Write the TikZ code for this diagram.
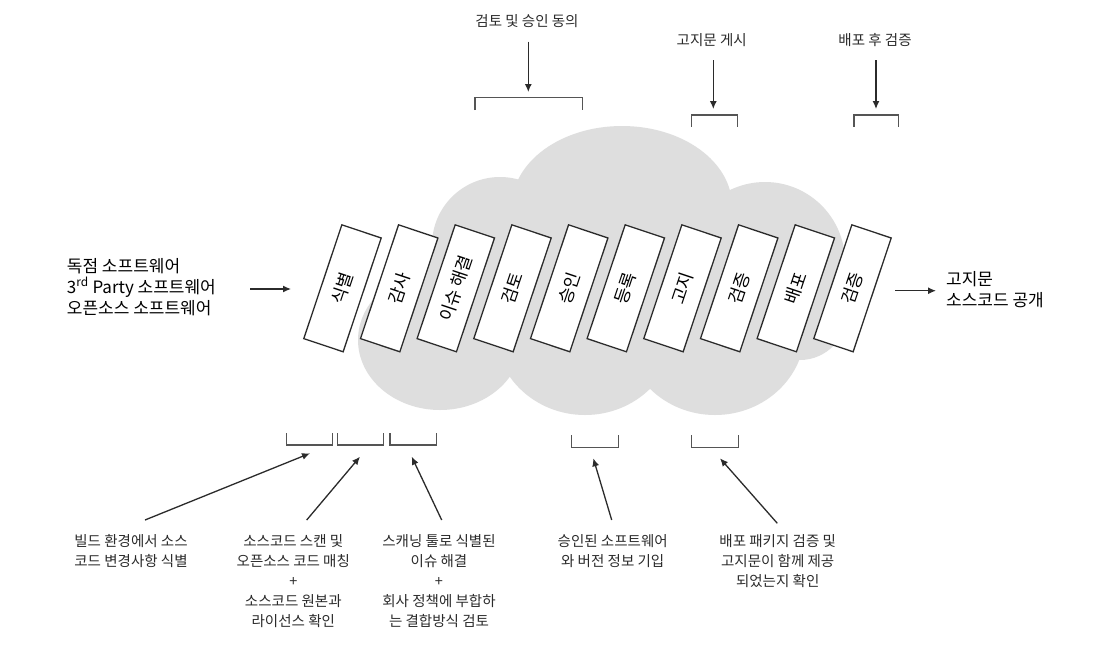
\documentclass[tikz,border=0pt]{standalone}
\usepackage{fontspec}
\setmainfont{Noto Sans CJK KR}
\usetikzlibrary{arrows.meta}
\definecolor{cloudgray}{HTML}{DEDEDE}
\definecolor{ink}{HTML}{2B2B2B}
\definecolor{brkgray}{HTML}{555555}
\begin{document}
\begin{tikzpicture}[x=1pt,y=-1pt,
  stepbox/.style={draw=ink, line width=1.3pt, fill=white, rotate=71.5,
    minimum width=120pt, minimum height=41.5pt, inner sep=0pt,
    font=\fontsize{17.5}{17.5}\selectfont, text=black},
  lbl/.style={align=center, font=\fontsize{14.5}{20}\selectfont, text=ink, inner sep=0pt, anchor=north},
  toplbl/.style={lbl, font=\fontsize{14.5}{20}\selectfont},
  side/.style={align=left, font=\fontsize{17}{21}\selectfont, text=black, inner sep=0pt, anchor=north west},
  arr/.style={-{Latex[length=8pt,width=7pt]}, line width=1.3pt, draw=ink},
  brk/.style={line width=1.5pt, draw=brkgray}]
\useasboundingbox (0,0) rectangle (1119,651);
\fill[white] (0,0) rectangle (1119,651);
% cloud
\begin{scope}[fill=cloudgray]
\fill (622,206) ellipse [x radius=110, y radius=80];
\fill (500,245) circle [radius=68];
\fill (440,340) ellipse [x radius=82, y radius=70];
\fill (585,330) ellipse [x radius=90, y radius=85];
\fill (715,330) ellipse [x radius=90, y radius=85];
\fill (765,262) circle [radius=80];
\fill (800,310) ellipse [x radius=48, y radius=50];
\fill (620,290) ellipse [x radius=200, y radius=100];
\end{scope}
% steps
\node[stepbox] (s1) at (342.5,288.3) {식별};
\node[stepbox] (s2) at (399.2,288.3) {감사};
\node[stepbox] (s3) at (455.8,288.3) {이슈 해결};
\node[stepbox] (s4) at (512.5,288.3) {검토};
\node[stepbox] (s5) at (569.2,288.3) {승인};
\node[stepbox] (s6) at (625.8,288.3) {등록};
\node[stepbox] (s7) at (682.5,288.3) {고지};
\node[stepbox] (s8) at (739.2,288.3) {검증};
\node[stepbox] (s9) at (795.8,288.3) {배포};
\node[stepbox] (s10) at (852.5,288.3) {검증};
% side texts
\node[side] (src) at (66.7,258) {독점 소프트웨어\\3\textsuperscript{rd} Party 소프트웨어\\오픈소스 소프트웨어};
\node[side] (out) at (946,271) {고지문\\소스코드 공개};
\coordinate (ls) at (250,289);
\coordinate (le) at (291,289);
\coordinate (rs) at (895,290.7);
\coordinate (re) at (936,290.7);
\draw[arr] (ls) -- (le);
\draw[arr] (rs) -- (re);
% top brackets
\draw[brk] (475,110) -- (475,97.7) -- (582.3,97.7) -- (582.3,110);
\draw[brk] (691.7,126.7) -- (691.7,115) -- (737.3,115) -- (737.3,126.7);
\draw[brk] (854,126.7) -- (854,115) -- (898.3,115) -- (898.3,126.7);
\node[toplbl] (t1) at (527,14) {검토 및 승인 동의};
\node[toplbl] (t2) at (711.7,33) {고지문 게시};
\node[toplbl] (t3) at (875,33) {배포 후 검증};
\coordinate (t1s) at (528.3,41.7);
\coordinate (t1e) at (528.3,92);
\coordinate (t2s) at (713.3,60);
\coordinate (t2e) at (713.3,109);
\coordinate (t3s) at (876,60);
\coordinate (t3e) at (876,109);
\draw[arr] (t1s) -- (t1e);
\draw[arr] (t2s) -- (t2e);
\draw[arr] (t3s) -- (t3e);
% bottom brackets
\draw[brk] (286.7,433.3) -- (286.7,445) -- (332.3,445) -- (332.3,433.3);
\draw[brk] (337.7,433.3) -- (337.7,445) -- (383.3,445) -- (383.3,433.3);
\draw[brk] (390,433.3) -- (390,445) -- (436.7,445) -- (436.7,433.3);
\draw[brk] (571.7,435) -- (571.7,447.3) -- (618.3,447.3) -- (618.3,435);
\draw[brk] (691.7,435) -- (691.7,447.3) -- (738.3,447.3) -- (738.3,435);
% bottom labels
\node[lbl] (b1) at (131,534.5) {빌드 환경에서 소스\\코드 변경사항 식별};
\node[lbl] (b2) at (293.3,534.5) {소스코드 스캔 및\\오픈소스 코드 매칭\\+\\소스코드 원본과\\라이선스 확인};
\node[lbl] (b3) at (439,534.5) {스캐닝 툴로 식별된\\이슈 해결\\+\\회사 정책에 부합하\\는 결합방식 검토};
\node[lbl] (b4) at (612.7,534.5) {승인된 소프트웨어\\와 버전 정보 기입};
\node[lbl] (b5) at (777.7,534.5) {배포 패키지 검증 및\\고지문이 함께 제공\\되었는지 확인};
\coordinate (a1s) at (145,520);
\coordinate (a1e) at (310,453.3);
\coordinate (a2s) at (306.7,520);
\coordinate (a2e) at (360,456.7);
\coordinate (a3s) at (441.7,520);
\coordinate (a3e) at (411.7,456.7);
\coordinate (a4s) at (611.7,520);
\coordinate (a4e) at (593.3,458.3);
\coordinate (a5s) at (777.3,523.3);
\coordinate (a5e) at (720,458.3);
\draw[arr] (a1s) -- (a1e);
\draw[arr] (a2s) -- (a2e);
\draw[arr] (a3s) -- (a3e);
\draw[arr] (a4s) -- (a4e);
\draw[arr] (a5s) -- (a5e);
\end{tikzpicture}
\end{document}
